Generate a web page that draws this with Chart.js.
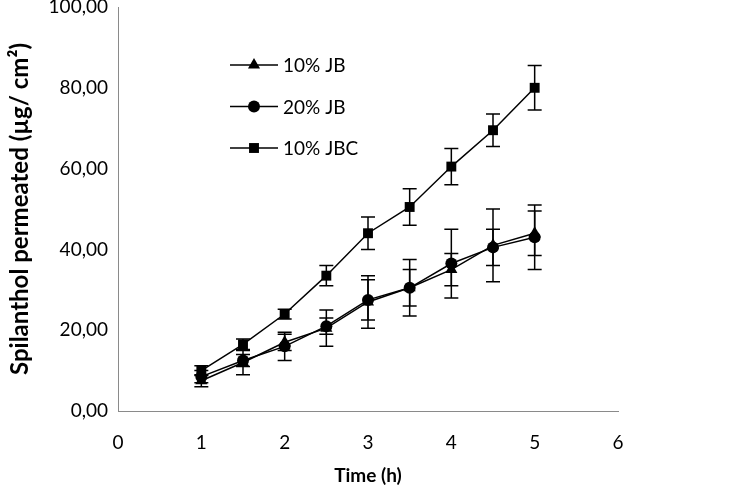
<!DOCTYPE html>
<html>
<head>
<meta charset="utf-8">
<script src="https://cdn.jsdelivr.net/npm/chart.js@4.4.1/dist/chart.umd.min.js"></script>
<style>
  html, body { margin: 0; padding: 0; background: #fff; }
  #wrap { width: 750px; height: 493px; }
</style>
</head>
<body>
<div id="wrap"><canvas id="chart"></canvas></div>
<script>
// Data
const timeHours = [1, 1.5, 2, 2.5, 3, 3.5, 4, 4.5, 5];

const jb10 = [7.5, 12, 17, 20.5, 27, 30.5, 35, 41, 44];
const jb10Sd = [1.5, 3, 2, 4.5, 6.5, 7, 4, 9, 5.5];

const jb20 = [8.5, 12.5, 16, 21, 27.5, 30.5, 36.5, 40.5, 43];
const jb20Sd = [1.5, 1.5, 3.5, 2, 5, 4.5, 8.5, 4.5, 8];

const jbc10 = [10, 16.5, 24, 33.5, 44, 50.5, 60.5, 69.5, 80];
const jbc10Sd = [1.2, 1.3, 1.2, 2.5, 4, 4.5, 4.5, 4, 5.5];

const seriesNames = ['10% JB', '20% JB', '10% JBC'];
const seriesStyles = ['triangle', 'circle', 'rect'];

const FONT = 'Lato, "Open Sans", sans-serif';
const AXIS_GREY = '#8a8a8a';

const toPoints = vals => vals.map((v, i) => ({ x: timeHours[i], y: v }));
const fmtComma = v => Number(v).toFixed(2).replace('.', ',');

// error bars drawn via the chart's own scales
const errorBars = {
    id: 'errorBars',
    beforeDatasetsDraw(chart) {
        const { ctx, scales: { x, y } } = chart;
        ctx.save();
        ctx.strokeStyle = '#000';
        ctx.lineWidth = 1.5;
        chart.data.datasets.forEach(ds => {
            ds.data.forEach((p, i) => {
                const sd = ds.sd[i];
                const px = x.getPixelForValue(p.x);
                const top = y.getPixelForValue(p.y + sd);
                const bot = y.getPixelForValue(p.y - sd);
                ctx.beginPath();
                ctx.moveTo(px, top); ctx.lineTo(px, bot);
                ctx.moveTo(px - 7, top); ctx.lineTo(px + 7, top);
                ctx.moveTo(px - 7, bot); ctx.lineTo(px + 7, bot);
                ctx.stroke();
            });
        });
        ctx.restore();
    }
};

// legend inside the plot: line with marker, then label
const insideLegend = {
    id: 'insideLegend',
    afterDraw(chart) {
        const { ctx, chartArea } = chart;
        ctx.save();
        chart.data.datasets.forEach((ds, i) => {
            const y0 = chartArea.top + 58 + i * 41.5;
            const x0 = chartArea.left + 112;
            ctx.strokeStyle = '#000';
            ctx.lineWidth = 1.5;
            ctx.beginPath();
            ctx.moveTo(x0, y0); ctx.lineTo(x0 + 48, y0);
            ctx.stroke();
            ctx.fillStyle = '#000';
            Chart.helpers.drawPoint(ctx, {
                pointStyle: ds.pointStyle,
                radius: ds.pointRadius,
                borderWidth: 0
            }, x0 + 24, y0);
            ctx.font = '19px ' + FONT;
            ctx.textBaseline = 'middle';
            ctx.fillText(ds.label, x0 + 53, y0 + 1);
        });
        ctx.restore();
    }
};

const makeDataset = (i, vals, sd, radius) => ({
    label: seriesNames[i],
    data: toPoints(vals),
    sd: sd,
    borderColor: '#000',
    backgroundColor: '#000',
    borderWidth: 1.5,
    pointStyle: seriesStyles[i],
    pointRadius: radius,
    pointBorderWidth: 0,
    pointBackgroundColor: '#000',
    tension: 0
});

new Chart(document.getElementById('chart'), {
    type: 'line',
    data: {
        datasets: [
            makeDataset(0, jb10, jb10Sd, 7),
            makeDataset(1, jb20, jb20Sd, 6),
            makeDataset(2, jbc10, jbc10Sd, 7)
        ]
    },
    options: {
        responsive: true,
        maintainAspectRatio: false,
        animation: false,
        layout: { padding: { left: 6, right: 132, top: 0, bottom: 0 } },
        plugins: {
            legend: { display: false },
            tooltip: { enabled: false }
        },
        scales: {
            x: {
                type: 'linear',
                min: 0, max: 6,
                afterFit: s => { s.height = 82; },
                grid: { display: false, drawTicks: true, tickLength: 5, tickColor: AXIS_GREY },
                border: { color: AXIS_GREY, width: 1 },
                ticks: { stepSize: 1, color: '#000', font: { family: FONT, size: 19, lineHeight: 0.75 }, padding: 20 },
                title: { display: true, text: 'Time (h)', color: '#000', font: { family: FONT, size: 19, weight: 'bold' }, padding: { top: 0, bottom: 6 } }
            },
            y: {
                min: 0, max: 100,
                afterFit: s => { s.width = 112; },
                grid: { display: false, drawTicks: true, tickLength: 5, tickColor: AXIS_GREY },
                border: { color: AXIS_GREY, width: 1 },
                ticks: { stepSize: 20, color: '#000', font: { family: FONT, size: 19, lineHeight: 0.2 }, padding: 5, callback: v => fmtComma(v) },
                title: { display: true, text: 'Spilanthol permeated (µg/ cm²)', color: '#000', font: { family: FONT, size: 24, weight: 'bold' }, padding: { top: 0, bottom: 0 } }
            }
        }
    },
    plugins: [errorBars, insideLegend]
});
</script>
</body>
</html>
